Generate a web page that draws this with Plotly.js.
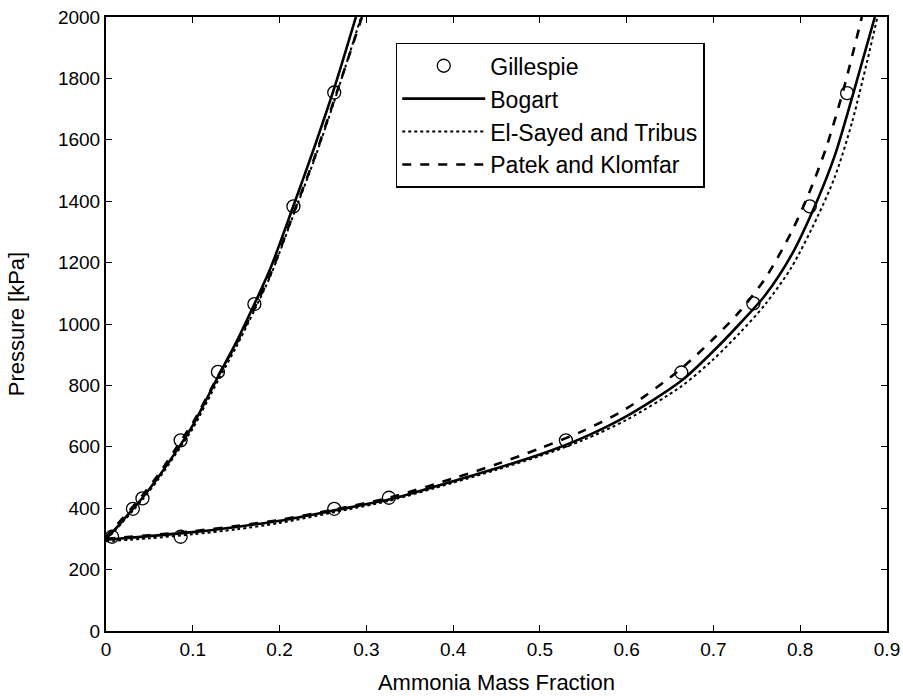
<!DOCTYPE html>
<html>
<head>
<meta charset="utf-8">
<script src="https://cdn.plot.ly/plotly-3.0.1.min.js"></script>
<style>html,body{margin:0;padding:0;background:#fff;}#chart{width:903px;height:696px;}</style>
</head>
<body>
<div id="chart"></div>
<script>
// Gillespie experimental data (liquid branch, then vapor branch)
const gillespieX = [0.007, 0.031, 0.042, 0.086, 0.129, 0.171, 0.216, 0.263,
                    0.086, 0.263, 0.326, 0.530, 0.663, 0.746, 0.811, 0.854];
const gillespieP = [307, 398, 432, 621, 844, 1065, 1383, 1754,
                    307, 398, 434, 621, 842, 1067, 1383, 1752];

// Bogart (solid)
const bogartLiqX = [0, 0.01, 0.02, 0.031, 0.042, 0.06, 0.086, 0.1, 0.129, 0.15, 0.171, 0.19, 0.216, 0.24, 0.263, 0.288];
const bogartLiqP = [300, 330, 362, 398, 434, 500, 607, 670, 828, 940, 1065, 1185, 1385, 1575, 1768, 2000];
const bogartVapX = [0, 0.05, 0.1, 0.15, 0.2, 0.263, 0.326, 0.4, 0.45, 0.5, 0.55, 0.6, 0.663, 0.7, 0.73, 0.76, 0.79, 0.82, 0.84, 0.86, 0.886];
const bogartVapP = [297, 309, 322, 339, 359, 393, 428, 488, 530, 575, 630, 700, 815, 912, 1000, 1095, 1225, 1405, 1550, 1740, 2000];

// El-Sayed and Tribus (dotted)
const elsayedLiqX = [0, 0.01, 0.02, 0.031, 0.042, 0.06, 0.086, 0.1, 0.129, 0.15, 0.171, 0.19, 0.216, 0.24, 0.263, 0.294];
const elsayedLiqP = [298, 326, 357, 392, 428, 493, 600, 660, 815, 925, 1045, 1160, 1355, 1535, 1725, 2000];
const elsayedVapX = [0, 0.05, 0.1, 0.15, 0.2, 0.263, 0.326, 0.4, 0.45, 0.5, 0.55, 0.6, 0.663, 0.7, 0.73, 0.76, 0.79, 0.82, 0.84, 0.86, 0.889];
const elsayedVapP = [292, 302, 315, 331, 352, 387, 424, 483, 525, 570, 622, 688, 797, 885, 970, 1065, 1185, 1350, 1480, 1660, 2000];

// Patek and Klomfar (dashed)
const patekLiqX = [0, 0.01, 0.02, 0.031, 0.042, 0.06, 0.086, 0.1, 0.129, 0.15, 0.171, 0.19, 0.216, 0.24, 0.263, 0.295];
const patekLiqP = [305, 338, 370, 405, 442, 508, 618, 678, 830, 935, 1052, 1165, 1360, 1540, 1730, 2000];
const patekVapX = [0, 0.05, 0.1, 0.15, 0.2, 0.263, 0.326, 0.4, 0.45, 0.5, 0.55, 0.6, 0.663, 0.7, 0.73, 0.76, 0.79, 0.81, 0.83, 0.85, 0.871];
const patekVapP = [300, 312, 325, 342, 362, 396, 434, 497, 543, 595, 652, 725, 855, 952, 1040, 1150, 1300, 1425, 1575, 1765, 2000];

const xTicks = [0, 0.1, 0.2, 0.3, 0.4, 0.5, 0.6, 0.7, 0.8, 0.9];
const yTicks = [0, 200, 400, 600, 800, 1000, 1200, 1400, 1600, 1800, 2000];

const join = (a, b) => a.concat([null], b);
const FONT = "Liberation Sans, Arial, sans-serif";

const traces = [
  {x: gillespieX, y: gillespieP, mode: 'markers', name: 'Gillespie',
   marker: {symbol: 'circle-open', size: 13, color: '#000', line: {width: 1.3, color: '#000'}}},
  {x: join(bogartLiqX, bogartVapX), y: join(bogartLiqP, bogartVapP), mode: 'lines', name: 'Bogart',
   connectgaps: false, line: {color: '#000', width: 2.6, shape: 'spline', smoothing: 0.8}},
  {x: join(elsayedLiqX, elsayedVapX), y: join(elsayedLiqP, elsayedVapP), mode: 'lines', name: 'El-Sayed and Tribus',
   connectgaps: false, line: {color: '#000', width: 2, dash: 'dot', shape: 'spline', smoothing: 0.8}},
  {x: join(patekLiqX, patekVapX), y: join(patekLiqP, patekVapP), mode: 'lines', name: 'Patek and Klomfar',
   connectgaps: false, line: {color: '#000', width: 2.6, dash: 'dash', shape: 'spline', smoothing: 0.8}}
];

const axisCommon = {
  showline: true, linecolor: '#000', linewidth: 2, mirror: 'ticks',
  ticks: 'inside', ticklen: 6, tickwidth: 1, tickcolor: '#000',
  showgrid: false, zeroline: false,
  tickfont: {family: FONT, size: 19, color: '#000'}
};

const layout = {
  width: 903, height: 696,
  margin: {l: 106, r: 16, t: 17, b: 65},
  paper_bgcolor: '#fff', plot_bgcolor: '#fff',
  showlegend: true,
  legend: {x: 0.371, y: 0.958, xanchor: 'left', yanchor: 'top',
           bordercolor: '#000', borderwidth: 1.5, bgcolor: '#fff',
           font: {family: FONT, size: 23, color: '#000'}, itemwidth: 83,
           tracegroupgap: 0},
  xaxis: Object.assign({}, axisCommon, {
    range: [0, 0.9], tickvals: xTicks, ticktext: xTicks.map(String),
    title: {text: 'Ammonia Mass Fraction', font: {family: FONT, size: 22, color: '#000'}, standoff: 16}
  }),
  yaxis: Object.assign({}, axisCommon, {
    range: [0, 2000], tickvals: yTicks, ticktext: yTicks.map(String),
    title: {text: 'Pressure [kPa]', font: {family: FONT, size: 22, color: '#000'}, standoff: 27}
  })
};

Plotly.newPlot('chart', traces, layout, {displayModeBar: false, staticPlot: true});
</script>
</body>
</html>
